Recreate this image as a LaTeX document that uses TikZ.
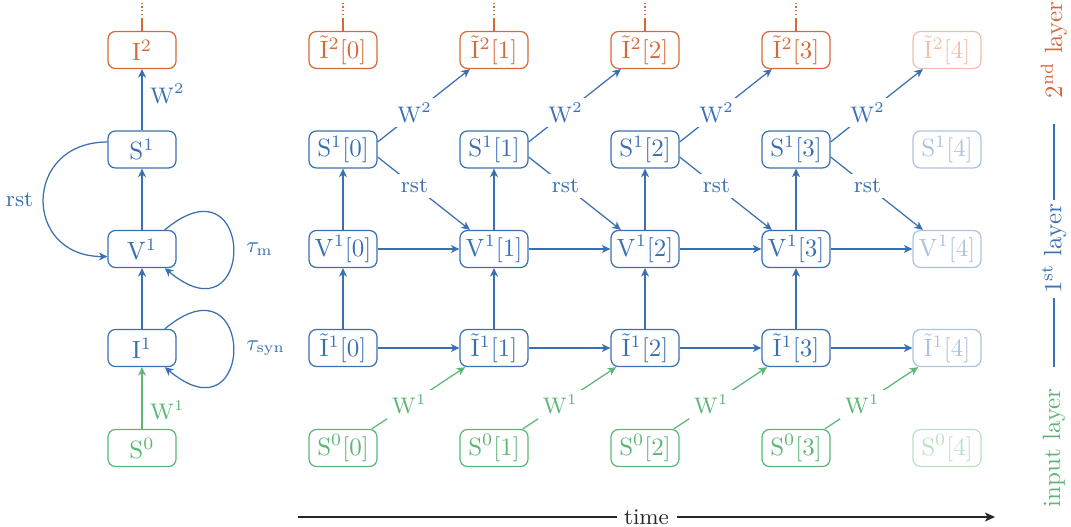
\documentclass[tikz,border=0pt]{standalone}
\usetikzlibrary{arrows.meta,calc}
\definecolor{lorange}{RGB}{214,104,58}
\definecolor{lblue}{RGB}{58,112,178}
\definecolor{lgreen}{RGB}{92,182,118}
\definecolor{taxis}{RGB}{40,40,40}

\begin{document}
\begin{tikzpicture}[x=0.4pt,y=-0.4pt,
  unit/.style={draw, rounded corners=3pt, minimum width=27.2pt, minimum height=14.8pt,
               inner sep=1pt, line width=0.5pt},
  outl/.style={unit, lorange},
  hid/.style={unit, lblue},
  inl/.style={unit, lgreen},
  conn/.style={line width=0.5pt, -{Stealth[length=3.4pt,width=3.2pt,inset=1pt]}},
  lbl/.style={font=\small, inner sep=2pt},
  side/.style={rotate=90, inner sep=1.5pt},
  feed/.style={lorange, line width=0.5pt},
]
\useasboundingbox (0,0) rectangle (1071,526);

% ---- folded network (left) ----
\node[outl] (I2) at (142,50)    {$\mathrm{I}^2$};
\node[hid]  (S1) at (142,149.5) {$\mathrm{S}^1$};
\node[hid]  (V1) at (142,249)   {$\mathrm{V}^1$};
\node[hid]  (I1) at (142,348)   {$\mathrm{I}^1$};
\node[inl]  (S0) at (142,448)   {$\mathrm{S}^0$};

\draw[feed] (I2.north) -- ++(0,-12) edge[dash pattern=on 0.5pt off 1pt] ++(0,-18);
\draw[conn,lblue] (S1) -- node[lbl,right,pos=0.6,inner sep=3pt]{$\mathrm{W}^2$} (I2);
\draw[conn,lblue] (V1) -- (S1);
\draw[conn,lblue] (I1) -- (V1);
\draw[conn,lgreen] (S0) -- node[lbl,right,pos=0.3,inner sep=3pt]{$\mathrm{W}^1$} (I1);
\draw[conn,lblue] ([yshift=3pt]S1.west) to[out=180,in=180,looseness=1.9]
      node[lbl,left,inner sep=4pt]{rst} ([yshift=-3pt]V1.west);
\draw[conn,lblue] (V1) to[out=40,in=-40,looseness=8]
      node[lbl,right,inner sep=5pt]{$\tau_\mathrm{m}$} (V1);
\draw[conn,lblue] (I1) to[out=40,in=-40,looseness=8]
      node[lbl,right,inner sep=5pt]{$\tau_\mathrm{syn}$} (I1);

% ---- unrolled network (time steps) ----
\foreach \k/\x/\op in {0/343/1,1/494/1,2/645/1,3/796/1,4/947/0.42}{
  \node[outl,opacity=\op] (I2-\k) at (\x,50)    {$\tilde{\mathrm{I}}^2[\k]$};
  \node[hid,opacity=\op]  (S1-\k) at (\x,149.5) {$\mathrm{S}^1[\k]$};
  \node[hid,opacity=\op]  (V1-\k) at (\x,249)   {$\mathrm{V}^1[\k]$};
  \node[hid,opacity=\op]  (I1-\k) at (\x,348)   {$\tilde{\mathrm{I}}^1[\k]$};
  \node[inl,opacity=\op]  (S0-\k) at (\x,448)   {$\mathrm{S}^0[\k]$};
}
\foreach \k/\n in {0/1,1/2,2/3,3/4}{
  \draw[feed] (I2-\k.north) -- ++(0,-12) edge[dash pattern=on 0.5pt off 1pt] ++(0,-18);
  \draw[conn,lblue] (V1-\k) -- (S1-\k);
  \draw[conn,lblue] (I1-\k) -- (V1-\k);
  \draw[conn,lblue] (V1-\k) -- (V1-\n);
  \draw[conn,lblue] (I1-\k) -- (I1-\n);
  \draw[conn,lblue] ([yshift=3pt]S1-\k.east) --
        node[lbl,pos=0.4,fill=white]{$\mathrm{W}^2$} (I2-\n);
  \draw[conn,lblue] ([yshift=-3pt]S1-\k.east) --
        node[lbl,pos=0.4,fill=white]{rst} (V1-\n);
  \draw[conn,lgreen] (S0-\k) --
        node[lbl,pos=0.4,fill=white]{$\mathrm{W}^1$} (I1-\n);
}

% ---- time axis ----
\coordinate (t0) at (298,517);
\coordinate (t1) at (995,517);
\draw[taxis, line width=0.5pt, -{Stealth[length=4pt,width=3.6pt,inset=1pt]}]
      (t0) -- node[fill=white,font=\small,inner sep=3pt]{time} (t1);

% ---- layer captions ----
\node[side,lorange] (L2) at (1054,50) {$2^{\mathrm{nd}}$ layer};
\node[side,lblue]   (L1) at (1054,249) {$1^{\mathrm{st}}$ layer};
\node[side,lgreen]  (L0) at (1054,448) {input layer};
\coordinate (L1top) at (1054,124);
\coordinate (L1bot) at (1054,367);
\draw[lblue, line width=0.5pt] (L1top) -- (L1.east);
\draw[lblue, line width=0.5pt] (L1.west) -- (L1bot);
\end{tikzpicture}
\end{document}
